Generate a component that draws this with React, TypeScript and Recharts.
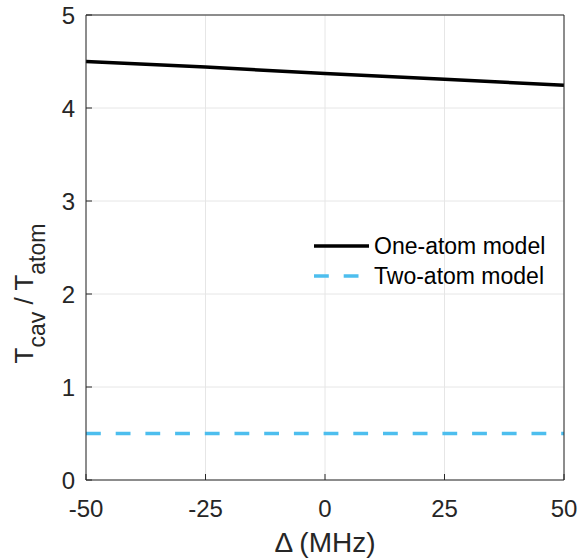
import React from 'react';
import { LineChart, Line, XAxis, YAxis, CartesianGrid, Legend, Label } from 'recharts';

const detuning = [-50, -25, 0, 25, 50];
const oneAtom = [4.5, 4.44, 4.372, 4.31, 4.245];
const twoAtom = [0.5, 0.5, 0.5, 0.5, 0.5];
const xTicks = [-50, -25, 0, 25, 50];
const yTicks = [0, 1, 2, 3, 4, 5];
const seriesNames = ['One-atom model', 'Two-atom model'];
const seriesColors = ['#000000', '#4DBEEE'];
const seriesDash = [undefined, '14.8 14.9'];

const data = detuning.map((d, i) => ({ d, one: oneAtom[i], two: twoAtom[i] }));

const FONT = '"Liberation Sans", Arial, Helvetica, sans-serif';
const AX = '#262626';
const GRID = '#e6e6e6';

const tickStyle = { fontSize: 24, fill: AX, fontFamily: FONT };

function YLabel(props: any) {
  const vb = props.viewBox || { x: 26, y: 15, width: 60, height: 465 };
  const cx = vb.x + 7;
  const cy = vb.y + vb.height / 2 + 46;
  return (
    <text
      x={cx}
      y={cy}
      textAnchor="middle"
      transform={`rotate(-90, ${cx}, ${cy})`}
      fill={AX}
      fontFamily={FONT}
      fontSize={26}
    >
      T
      <tspan dy={12} fontSize={23}>cav</tspan>
      <tspan dy={-12}> / T</tspan>
      <tspan dy={12} fontSize={23}>atom</tspan>
    </text>
  );
}

function LegendContent(props: any) {
  const payload = props.payload || [];
  return (
    <div style={{ fontFamily: FONT, fontSize: 23, color: '#000' }}>
      {payload.map((entry: any, i: number) => {
        const idx = seriesNames.indexOf(entry.value);
        const dash = idx >= 0 ? seriesDash[idx] : undefined;
        return (
          <div key={i} style={{ display: 'flex', alignItems: 'center', height: 30 }}>
            <svg width={55} height={30} style={{ display: 'block' }}>
              <line x1={0} x2={55} y1={15} y2={15} stroke={entry.color} strokeWidth={3.5} strokeDasharray={dash} />
            </svg>
            <span style={{ marginLeft: 5, whiteSpace: 'nowrap', lineHeight: '30px' }}>{entry.value}</span>
          </div>
        );
      })}
    </div>
  );
}

export default function App() {
  return (
    <div style={{ position: 'absolute', left: 0, top: 0, width: 578, height: 558, background: '#fff' }}>
      <LineChart width={578} height={558} data={data} margin={{ top: 14, right: 13, bottom: 0, left: 26 }}>
        <CartesianGrid stroke={GRID} strokeWidth={1} strokeDasharray="0" />
        <XAxis
          dataKey="d"
          type="number"
          domain={[-50, 50]}
          ticks={xTicks}
          height={78}
          tickSize={-6}
          tickMargin={26}
          tick={tickStyle}
          stroke={AX}
          axisLine={{ stroke: AX, strokeWidth: 1 }}
          tickLine={{ stroke: AX, strokeWidth: 1 }}
          interval={0}
        >
          <Label value="Δ (MHz)" position="insideBottom" offset={6} style={{ fontSize: 28, fill: AX, fontFamily: FONT }} />
        </XAxis>
        <XAxis
          xAxisId="top"
          dataKey="d"
          type="number"
          domain={[-50, 50]}
          ticks={xTicks}
          orientation="top"
          height={1}
          tickSize={-6}
          tick={false}
          axisLine={{ stroke: AX, strokeWidth: 1 }}
          tickLine={{ stroke: AX, strokeWidth: 1 }}
          interval={0}
        />
        <YAxis
          type="number"
          domain={[0, 5]}
          ticks={yTicks}
          width={60}
          tickSize={-6}
          tickMargin={17}
          tick={tickStyle}
          axisLine={{ stroke: AX, strokeWidth: 1 }}
          tickLine={{ stroke: AX, strokeWidth: 1 }}
          interval={0}
          allowDataOverflow
        >
          <Label content={<YLabel />} position="insideLeft" />
        </YAxis>
        <YAxis
          yAxisId="right"
          orientation="right"
          type="number"
          domain={[0, 5]}
          ticks={yTicks}
          width={1}
          tickSize={-6}
          tick={false}
          axisLine={{ stroke: AX, strokeWidth: 1 }}
          tickLine={{ stroke: AX, strokeWidth: 1 }}
          interval={0}
        />
        <Legend
          layout="vertical"
          align="center"
          verticalAlign="middle"
          content={<LegendContent />}
          wrapperStyle={{ left: 314, top: 231, width: 'auto' }}
        />
        <Line
          type="linear"
          dataKey="one"
          name={seriesNames[0]}
          stroke={seriesColors[0]}
          strokeWidth={3.5}
          dot={false}
          isAnimationActive={false}
        />
        <Line
          type="linear"
          dataKey="two"
          name={seriesNames[1]}
          stroke={seriesColors[1]}
          strokeWidth={3.5}
          strokeDasharray={seriesDash[1]}
          dot={false}
          isAnimationActive={false}
        />
      </LineChart>
    </div>
  );
}
